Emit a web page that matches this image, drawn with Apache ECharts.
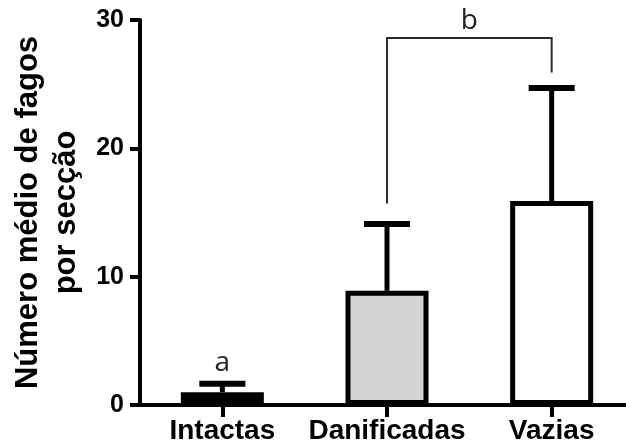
<!DOCTYPE html>
<html>
<head>
<meta charset="utf-8">
<script src="https://cdn.jsdelivr.net/npm/echarts@6/dist/echarts.min.js"></script>
<style>html,body{margin:0;padding:0;background:#fff;}#c{width:626px;height:447px;}</style>
</head>
<body>
<div id="c"></div>
<script>
var categories = ['Intactas', 'Danificadas', 'Vazias'];
var means = [1.0, 8.9, 15.9];
var errorTops = [1.66, 14.1, 24.7];
var barColors = ['#000000', '#d3d3d3', '#ffffff'];
var yTicks = [0, 10, 20, 30];
// bracket: [fromIndex, toIndex, topY, leftBottomY, rightBottomY]
var bracket = [[1, 2, 28.6, 15.7, 25.9]];
// letters: [index position, y, text]
var letters = [[0, 3.3, 'a'], [1.5, 29.9, 'b']];

var chart = echarts.init(document.getElementById('c'), null, {renderer: 'canvas'});
var FONT = '"Liberation Sans", Arial, sans-serif';
chart.setOption({
  animation: false,
  backgroundColor: '#ffffff',
  grid: {left: 140, top: 20, bottom: 42, width: 494, containLabel: false, outerBoundsMode: 'none'},
  xAxis: {
    type: 'category',
    data: categories,
    axisLine: {lineStyle: {color: '#000', width: 4}},
    axisTick: {show: true, alignWithLabel: true, length: 12, lineStyle: {color: '#000', width: 4}},
    axisLabel: {interval: 0, color: '#000', fontFamily: FONT, fontWeight: 'bold', fontSize: 28, margin: 12}
  },
  yAxis: {
    type: 'value',
    min: 0, max: 30, interval: 10,
    name: 'Número médio de fagos\npor secção',
    nameLocation: 'middle',
    nameRotate: 90,
    nameGap: 52,
    nameTextStyle: {color: '#000', fontFamily: FONT, fontWeight: 'bold', fontSize: 31, lineHeight: 38},
    splitLine: {show: false},
    axisLine: {show: true, lineStyle: {color: '#000', width: 4}},
    axisTick: {show: true, length: 10, lineStyle: {color: '#000', width: 4}},
    axisLabel: {color: '#000', fontFamily: FONT, fontWeight: 'bold', fontSize: 25, margin: 16,
      formatter: function (v) { return yTicks.indexOf(v) >= 0 ? String(v) : ''; }}
  },
  series: [
    {
      type: 'bar',
      barWidth: 83,
      z: 2,
      data: means.map(function (v, i) {
        return {value: v, itemStyle: {color: barColors[i], borderColor: '#000', borderWidth: 5}};
      })
    },
    {
      type: 'custom',
      z: 3,
      data: means.map(function (v, i) { return [i, v, errorTops[i]]; }),
      renderItem: function (params, api) {
        var b = api.coord([api.value(0), api.value(1)]);
        var t = api.coord([api.value(0), api.value(2)]);
        var hw = 23;
        return {
          type: 'group',
          children: [
            {type: 'line', shape: {x1: b[0], y1: b[1], x2: t[0], y2: t[1]}, style: {stroke: '#000', lineWidth: 5}},
            {type: 'line', shape: {x1: t[0] - hw, y1: t[1], x2: t[0] + hw, y2: t[1]}, style: {stroke: '#000', lineWidth: 6}}
          ]
        };
      }
    },
    {
      type: 'custom',
      z: 3,
      data: bracket,
      renderItem: function (params, api) {
        var l = api.coord([api.value(0), api.value(2)]);
        var r = api.coord([api.value(1), api.value(2)]);
        var lb = api.coord([api.value(0), api.value(3)]);
        var rb = api.coord([api.value(1), api.value(4)]);
        return {
          type: 'polyline',
          shape: {points: [[lb[0], lb[1]], [l[0], l[1]], [r[0], r[1]], [rb[0], rb[1]]]},
          style: {stroke: '#2a2a2a', lineWidth: 2, fill: null}
        };
      }
    },
    {
      type: 'custom',
      z: 3,
      data: letters,
      renderItem: function (params, api) {
        var idx = api.value(0);
        var p = api.coord([0, api.value(1)]);
        var x0 = api.coord([0, 0])[0];
        var x1 = api.coord([1, 0])[0];
        var x = x0 + (x1 - x0) * idx;
        return {
          type: 'text',
          x: x, y: p[1],
          style: {text: letters[params.dataIndex][2], fill: '#222', font: '28px "Open Sans", sans-serif', align: 'center', verticalAlign: 'middle'}
        };
      }
    }
  ]
});
</script>
</body>
</html>
